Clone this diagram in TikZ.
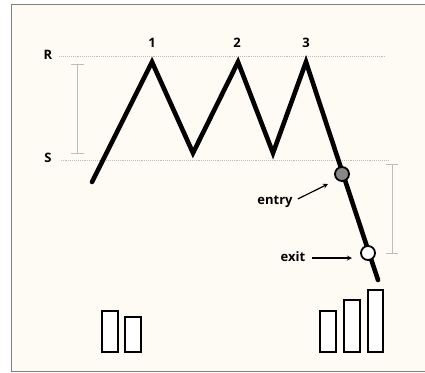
\documentclass[tikz,border=0pt]{standalone}
\usepackage{fontspec}
\setmainfont{Open Sans}
\usepackage{tikz}
\usetikzlibrary{positioning}

\definecolor{paper}{HTML}{FDFBF4}
\definecolor{rangegray}{HTML}{BDBDBD}
\definecolor{dotgray}{HTML}{888888}

\tikzset{
  lbl/.style={font=\bfseries\fontsize{13}{15}\selectfont, inner sep=1pt},
  level/.style={rangegray, densely dotted, line width=0.9pt},
  rangebar/.style={rangegray, line width=1pt},
  price/.style={line width=4.6pt, line join=miter, line cap=round},
  vol/.style={draw, line width=1.8pt, fill=white},
  pt/.style={circle, draw, line width=1.8pt, minimum size=14pt, inner sep=0pt}
}

\begin{document}
\begin{tikzpicture}[x=1pt,y=-1pt,>=stealth]
\useasboundingbox (0,0) rectangle (425,372);
\fill[white] (0,0) rectangle (425,372);
\draw[fill=paper, line width=0.8pt, draw=gray] (11,4) rectangle (430,371);
%\draw[help lines,step=50pt] (0,0) grid (425,372);
% levels
\node[lbl] (R) at (48,55) {R};
\node[lbl] (S) at (48,158) {S};
\draw[level] (R.east) ++(6,1) -- (386,56);
\draw[level] (S.east) ++(8,2) -- (389,160);
% ranges
\draw[rangebar] (77,64) -- (77,153);
\draw[rangebar] (71,64) -- (84,64) (71,153) -- (84,153);
\draw[rangebar] (392,164) -- (392,253);
\draw[rangebar] (386,164) -- (398,164) (386,253) -- (398,253);
% price
\coordinate (start) at (92,182);
\coordinate (p1) at (152,62);
\coordinate (t1) at (193,153);
\coordinate (p2) at (238,62);
\coordinate (t2) at (273,153);
\coordinate (p3) at (306,62);
\coordinate (end) at (378,280);
\draw[price] (start) -- (p1) -- (t1) -- (p2) -- (t2) -- (p3) -- (end);
\node[lbl] (n1) at (152,43) {1};
\node[lbl] (n2) at (237,43) {2};
\node[lbl] (n3) at (306,43) {3};
% entry and exit
\node[pt, fill=dotgray] (in) at (342,174) {};
\node[pt, fill=white] (out) at (368,253) {};
\node[lbl] (entry) at (275,202) {entry};
\node[lbl] (exit) at (293,257) {exit};
\draw[->, line width=1.2pt] (entry.east) ++(4,-3) -- (328,184);
\draw[->, line width=1.2pt] (exit.east) ++(6,1) -- (352,258);
% volume
\draw[vol] (102,311) rectangle (118,352);
\draw[vol] (125,317) rectangle (141,352);
\draw[vol] (320,311) rectangle (336,352);
\draw[vol] (344,300) rectangle (360,352);
\draw[vol] (368,290) rectangle (383,352);
\end{tikzpicture}
\end{document}
